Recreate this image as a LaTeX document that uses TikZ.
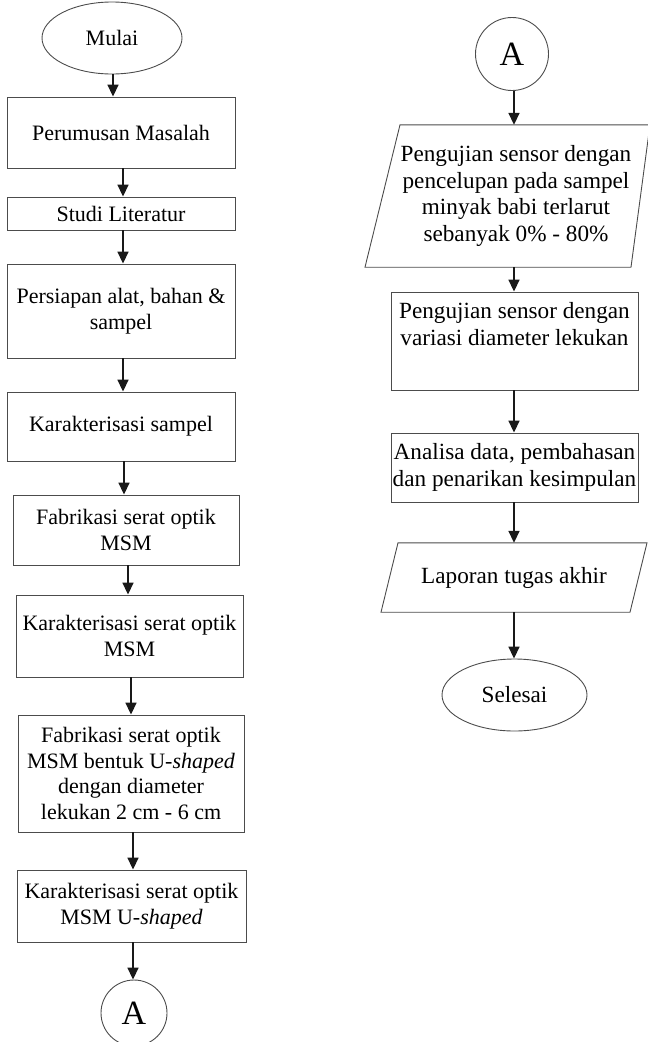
\documentclass[tikz,border=0pt]{standalone}
\usepackage{fontspec}
\setmainfont{Liberation Serif}
\usetikzlibrary{arrows.meta,shapes.geometric}
\begin{document}
\begin{tikzpicture}[x=1pt,y=-1pt,
  every node/.style={font=\fontsize{22}{25.5}\selectfont, text=black},
  rfont/.style={font=\fontsize{23.2}{26.5}\selectfont},
  stepbox/.style={draw=black!70, line width=0.9pt, align=center, inner sep=0pt},
  term/.style={draw=black!70, line width=0.9pt, ellipse, inner sep=0pt},
  conn/.style={draw=black!70, line width=0.9pt, circle, inner sep=0pt, font=\fontsize{34}{34}\selectfont},
  ptext/.style={align=center, inner sep=0pt},
  pline/.style={draw=black!70, line width=0.9pt},
  flow/.style={-{Triangle[length=12pt,width=11pt]}, line width=1.7pt, draw=black!90},
]
\useasboundingbox (0,0) rectangle (648,1042);

% column axes for connectors
\coordinate (x1) at (113,0);
\coordinate (x2) at (123,0);
\coordinate (x3) at (124,0);
\coordinate (x4) at (128,0);
\coordinate (x5) at (131,0);
\coordinate (x6) at (133,0);
\coordinate (xr) at (514,0);

% left column
\node[term, minimum width=140pt, minimum height=72pt] (mulai) at (112,38) {Mulai};
\node[stepbox, minimum width=228pt, minimum height=71pt] (b1) at (121,132.5) {Perumusan Masalah};
\node[stepbox, minimum width=228pt, minimum height=33pt] (b2) at (121,213.5) {Studi Literatur};
\node[stepbox, minimum width=228pt, minimum height=94pt] (b3) at (121,311) {Persiapan alat, bahan \&\\sampel};
\node[stepbox, minimum width=228pt, minimum height=69pt] (b4) at (121,426.5) {Karakterisasi sampel};
\node[stepbox, minimum width=226pt, minimum height=70pt] (b5) at (126,530) {Fabrikasi serat optik\\MSM};
\node[stepbox, minimum width=227pt, minimum height=82pt] (b6) at (129.5,636) {Karakterisasi serat optik\\MSM};
\node[stepbox, minimum width=226pt, minimum height=117pt] (b7) at (131,773.5) {Fabrikasi serat optik\\MSM bentuk U-\textit{shaped}\\dengan diameter\\lekukan 2 cm - 6 cm};
\node[stepbox, minimum width=229pt, minimum height=72pt] (b8) at (131.5,906) {Karakterisasi serat optik\\MSM U-\textit{shaped}};
\node[conn, minimum size=66pt] (a1) at (134,1013) {A};

\draw[flow] (mulai.south -| x1) -- (b1.north -| x1);
\draw[flow] (b1.south -| x2) -- (b2.north -| x2);
\draw[flow] (b2.south -| x2) -- (b3.north -| x2);
\draw[flow] (b3.south -| x2) -- (b4.north -| x2);
\draw[flow] (b4.south -| x3) -- (b5.north -| x3);
\draw[flow] (b5.south -| x4) -- (b6.north -| x4);
\draw[flow] (b6.south -| x5) -- (b7.north -| x5);
\draw[flow] (b7.south -| x6) -- (b8.north -| x6);
\draw[flow] (b8.south -| x6) -- (a1.north -| x6);

% right column
\node[conn, minimum size=73pt] (a2) at (512,54) {A};
\node[ptext, rfont, minimum width=246pt, minimum height=142pt] (p1) at (516,196) {Pengujian sensor dengan\\pencelupan pada sampel\\minyak babi terlarut\\sebanyak 0\% - 80\%};
\draw[pline] ([xshift=-116pt]p1.north) -- ([xshift=134pt]p1.north) -- ([xshift=115pt]p1.south) -- ([xshift=-151pt]p1.south) -- cycle;
\node[stepbox, rfont, minimum width=247pt, minimum height=98pt] (r1) at (514.5,341) {Pengujian sensor dengan\\variasi diameter lekukan\\\strut};
\node[stepbox, rfont, minimum width=247pt, minimum height=69pt] (r2) at (514.5,467.5) {Analisa data, pembahasan\\dan penarikan kesimpulan};
\node[ptext, rfont, minimum width=249pt, minimum height=69pt] (p2) at (514,577.5) {Laporan tugas akhir};
\draw[pline] ([xshift=-116pt]p2.north) -- ([xshift=133pt]p2.north) -- ([xshift=116pt]p2.south) -- ([xshift=-133pt]p2.south) -- cycle;
\node[term, rfont, minimum width=145pt, minimum height=72pt] (selesai) at (514.5,695) {Selesai};

\draw[flow] (a2.south -| xr) -- (p1.north -| xr);
\draw[flow] (p1.south -| xr) -- (r1.north -| xr);
\draw[flow] (r1.south -| xr) -- (r2.north -| xr);
\draw[flow] (r2.south -| xr) -- (p2.north -| xr);
\draw[flow] (p2.south -| xr) -- (selesai.north -| xr);
\end{tikzpicture}
\end{document}
